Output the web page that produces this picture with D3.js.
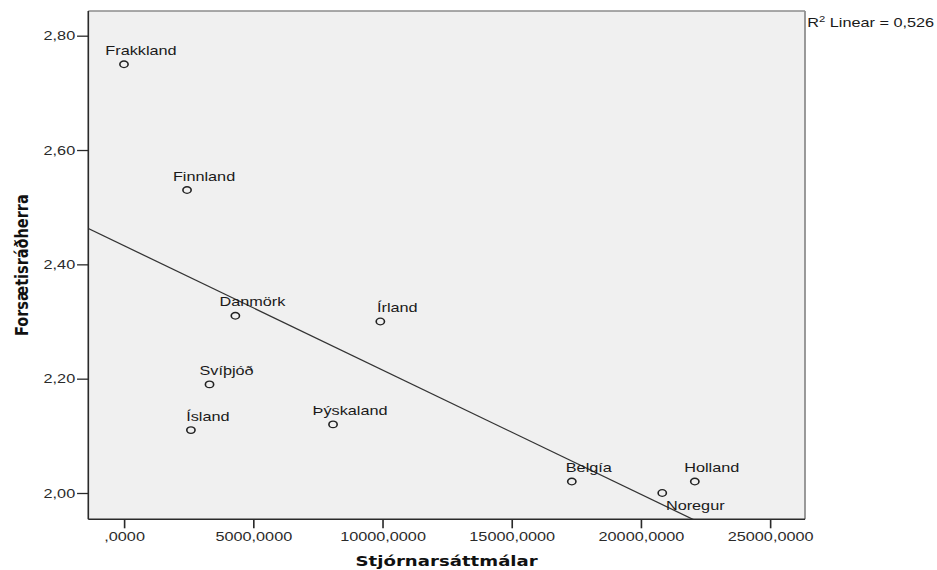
<!DOCTYPE html>
<html>
<head>
<meta charset="utf-8">
<script src="https://cdn.jsdelivr.net/npm/d3@7/dist/d3.min.js"></script>
<style>
  html, body { margin: 0; padding: 0; background: #fff; }
  svg { display: block; }
</style>
</head>
<body>
<svg id="chart" width="937" height="570"></svg>
<script>
// Countries and their scores
const countries = ["Frakkland", "Finnland", "Danmörk", "Írland", "Svíþjóð", "Ísland", "Þýskaland", "Belgía", "Noregur", "Holland"];
const stjornarsattmalar = [0, 2440, 4310, 9920, 3310, 2590, 8090, 17330, 20830, 22090];
const forsaetisradherra = [2.75, 2.53, 2.31, 2.30, 2.19, 2.11, 2.12, 2.02, 2.00, 2.02];

// Axis ticks and their printed labels
const xTicks = [0, 5000, 10000, 15000, 20000, 25000];
const xTickLabels = [",0000", "5000,0000", "10000,0000", "15000,0000", "20000,0000", "25000,0000"];
const yTicks = [2.0, 2.2, 2.4, 2.6, 2.8];
const yTickLabels = ["2,00", "2,20", "2,40", "2,60", "2,80"];

const xTitle = "Stjórnarsáttmálar";
const yTitle = "Forsætisráðherra";

// Labels drawn under-right of their marker instead of above
const labelsBelow = new Set(["Noregur"]);

// ---------------------------------------------------------------
// The whole figure is drawn with a wide horizontal aspect
const SX = 1.25;
const svg = d3.select("#chart");
const root = svg.append("g").attr("transform", `scale(${SX},1)`);

const plot = { left: 88.3 / SX, right: 805 / SX, top: 11, bottom: 519.3 };

const x = d3.scaleLinear().domain([-1381, 26354]).range([plot.left, plot.right]);
const y = d3.scaleLinear().domain([1.954, 2.8432]).range([plot.bottom, plot.top]);

const points = countries.map((c, i) => ({ name: c, x: stjornarsattmalar[i], y: forsaetisradherra[i] }));

// Plot background
root.append("rect")
  .attr("x", plot.left).attr("y", plot.top)
  .attr("width", plot.right - plot.left).attr("height", plot.bottom - plot.top)
  .attr("fill", "#f0f0f0");

// Frame: grey top/right, dark axis lines left/bottom
root.append("line").attr("x1", plot.left).attr("x2", plot.right).attr("y1", plot.top).attr("y2", plot.top)
  .attr("stroke", "#8c8c8c").attr("stroke-width", 1.6);
root.append("line").attr("x1", plot.right).attr("x2", plot.right).attr("y1", plot.top).attr("y2", plot.bottom)
  .attr("stroke", "#8c8c8c").attr("stroke-width", 1.4);

const tickFont = "'Liberation Sans', Arial, sans-serif";

const yAxis = root.append("g")
  .attr("transform", `translate(${plot.left},0)`)
  .call(d3.axisLeft(y).tickValues(yTicks).tickFormat((d, i) => yTickLabels[i]).tickSize(9).tickPadding(1.5));
yAxis.select(".domain").remove();

const xAxis = root.append("g")
  .attr("transform", `translate(0,${plot.bottom})`)
  .call(d3.axisBottom(x).tickValues(xTicks).tickFormat((d, i) => xTickLabels[i]).tickSize(9).tickPadding(3));
xAxis.select(".domain").remove();

[yAxis, xAxis].forEach(a => {
  a.selectAll(".tick line").attr("stroke", "#2a2a2a").attr("stroke-width", 1.3);
  a.selectAll(".tick text").attr("fill", "#2a2a2a").style("font-family", tickFont).style("font-size", "13px");
});

root.append("line").attr("x1", plot.left).attr("x2", plot.left).attr("y1", plot.top).attr("y2", plot.bottom)
  .attr("stroke", "#2a2a2a").attr("stroke-width", 1.3);
root.append("line").attr("x1", plot.left).attr("x2", plot.right).attr("y1", plot.bottom).attr("y2", plot.bottom)
  .attr("stroke", "#2a2a2a").attr("stroke-width", 1.4);

// Least-squares fit line
const mx = d3.mean(points, d => d.x), my = d3.mean(points, d => d.y);
const sxy = d3.sum(points, d => (d.x - mx) * (d.y - my));
const sxx = d3.sum(points, d => (d.x - mx) ** 2);
const syy = d3.sum(points, d => (d.y - my) ** 2);
const slope = sxy / sxx;
const intercept = my - slope * mx;
const r2 = (sxy * sxy) / (sxx * syy);

root.append("clipPath").attr("id", "plot-clip")
  .append("rect")
  .attr("x", plot.left).attr("y", plot.top)
  .attr("width", plot.right - plot.left).attr("height", plot.bottom - plot.top);

const [xd0, xd1] = x.domain();
root.append("line")
  .attr("clip-path", "url(#plot-clip)")
  .attr("x1", x(xd0)).attr("y1", y(intercept + slope * xd0))
  .attr("x2", x(xd1)).attr("y2", y(intercept + slope * xd1))
  .attr("stroke", "#333").attr("stroke-width", 1.2);

// Markers
root.append("g").selectAll("circle")
  .data(points).join("circle")
  .attr("cx", d => x(d.x)).attr("cy", d => y(d.y))
  .attr("r", 3.3)
  .attr("fill", "none").attr("stroke", "#222").attr("stroke-width", 1.3);

// Point labels
root.append("g").selectAll("text")
  .data(points).join("text")
  .attr("x", d => x(d.x) + (labelsBelow.has(d.name) ? 26.4 : 13.6))
  .attr("y", d => y(d.y) + (labelsBelow.has(d.name) ? 17.4 : -9.5))
  .attr("text-anchor", "middle")
  .attr("fill", "#1a1a1a")
  .style("font-family", tickFont).style("font-size", "13px")
  .text(d => d.name);

// R² annotation
const r2Text = root.append("text")
  .attr("x", 807.3 / SX).attr("y", 26.7)
  .attr("fill", "#1a1a1a")
  .style("font-family", tickFont).style("font-size", "13px");
r2Text.append("tspan").text("R");
r2Text.append("tspan").attr("dy", -4.7).style("font-size", "9px").text("2");
r2Text.append("tspan").attr("dy", 4.7).text(" Linear = " + d3.format(".3f")(r2).replace(".", ","));

// Axis titles
const titleFont = "'DejaVu Sans', Verdana, sans-serif";
root.append("text")
  .attr("x", (plot.left + plot.right) / 2).attr("y", 566)
  .attr("text-anchor", "middle")
  .attr("fill", "#111")
  .style("font-family", titleFont).style("font-weight", "bold").style("font-size", "14.5px")
  .text(xTitle);

root.append("text")
  .attr("transform", `translate(${28 / SX},${(plot.top + plot.bottom) / 2}) rotate(-90)`)
  .attr("text-anchor", "middle")
  .attr("fill", "#111")
  .style("font-family", titleFont).style("font-weight", "bold").style("font-size", "14.5px")
  .text(yTitle);
</script>
</body>
</html>
